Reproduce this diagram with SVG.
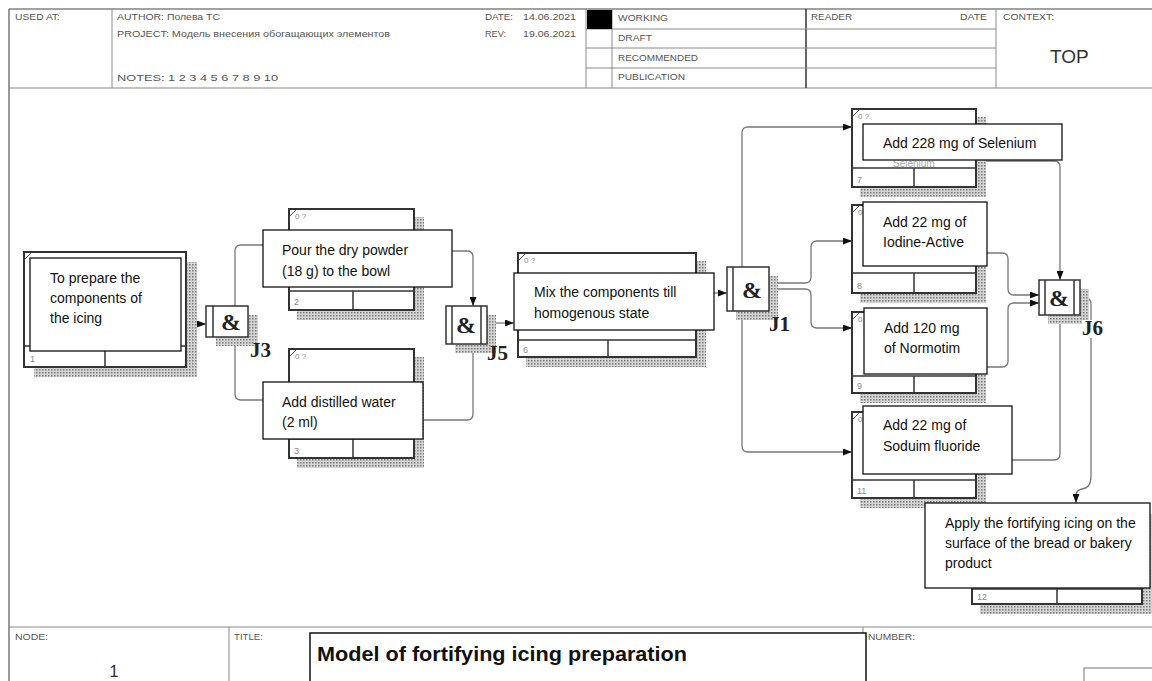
<svg xmlns="http://www.w3.org/2000/svg" width="1152" height="681" viewBox="0 0 1152 681">
<style>
.hdr{font-family:"Liberation Sans",Arial,sans-serif;font-size:8.5px;fill:#555}
.hl{stroke:#8a8a8a;stroke-width:1;fill:none}
.box{fill:#fff;stroke:#333;stroke-width:2}
.strip{stroke:#333;stroke-width:1.5;fill:none}
.tick{stroke:#555;stroke-width:1;fill:none}
.shadow{fill:url(#dots)}
.lbl{fill:#fff;stroke:#111;stroke-width:1.3}
.lt{font-family:"Liberation Sans",Arial,sans-serif;font-size:14px;fill:#111}
.num{font-family:"Liberation Sans",Arial,sans-serif;font-size:9px;fill:#888}
.q{font-family:"Liberation Sans",Arial,sans-serif;font-size:8px;fill:#888}
.jb{fill:#fff;stroke:#333;stroke-width:1.5}
.jd{stroke:#333;stroke-width:1.5}
.amp{font-family:"Liberation Serif","Times New Roman",serif;font-weight:bold;font-size:24px;fill:#222;text-anchor:middle}
.jl{font-family:"Liberation Serif","Times New Roman",serif;font-weight:bold;font-size:21px;fill:#222}
.cn{fill:none;stroke:#777;stroke-width:1.3;marker-end:url(#ah)}
</style>
<defs>
<pattern id="dots" width="3" height="3" patternUnits="userSpaceOnUse">
<rect width="3" height="3" fill="#d4d4d4"/>
<rect width="1.5" height="1.5" fill="#7a7a7a"/>
</pattern>
<marker id="ah" markerWidth="9" markerHeight="7" refX="9" refY="3.5" orient="auto" markerUnits="userSpaceOnUse">
<path d="M0,0 L9,3.5 L0,7 z" fill="#111"/>
</marker>
</defs>
<rect width="1152" height="681" fill="#fff"/>

<g id="header">
<line x1="9" y1="9" x2="1152" y2="9" stroke="#444" stroke-width="1.2"/>
<line x1="9" y1="88" x2="1152" y2="88" stroke="#888" stroke-width="1.2"/>
<line x1="9" y1="9" x2="9" y2="681" stroke="#555" stroke-width="1.2"/>
<line class="hl" x1="112" y1="9" x2="112" y2="88"/>
<line class="hl" x1="586" y1="9" x2="586" y2="88"/>
<line class="hl" x1="612" y1="9" x2="612" y2="88"/>
<line x1="806" y1="9" x2="806" y2="88" stroke="#333" stroke-width="1.5"/>
<line class="hl" x1="996" y1="9" x2="996" y2="88"/>
<line class="hl" x1="586" y1="29" x2="996" y2="29"/>
<line class="hl" x1="586" y1="48" x2="996" y2="48"/>
<line class="hl" x1="586" y1="68" x2="996" y2="68"/>
<rect x="587" y="10" width="25" height="19" fill="#000"/>
<text class="hdr" x="15" y="20" textLength="45" lengthAdjust="spacingAndGlyphs">USED AT:</text>
<text class="hdr" x="117" y="20" textLength="103" lengthAdjust="spacingAndGlyphs">AUTHOR: Полева ТС</text>
<text class="hdr" x="117" y="37" textLength="273" lengthAdjust="spacingAndGlyphs">PROJECT: Модель внесения обогащающих элементов</text>
<text class="hdr" x="117" y="81" textLength="161" lengthAdjust="spacingAndGlyphs">NOTES: 1 2 3 4 5 6 7 8 9 10</text>
<text class="hdr" x="485" y="20" textLength="28" lengthAdjust="spacingAndGlyphs">DATE:</text>
<text class="hdr" x="523" y="20" textLength="53" lengthAdjust="spacingAndGlyphs">14.06.2021</text>
<text class="hdr" x="485" y="37" textLength="21" lengthAdjust="spacingAndGlyphs">REV:</text>
<text class="hdr" x="523" y="37" textLength="53" lengthAdjust="spacingAndGlyphs">19.06.2021</text>
<text class="hdr" x="618" y="21" textLength="50" lengthAdjust="spacingAndGlyphs">WORKING</text>
<text class="hdr" x="618" y="41" textLength="34" lengthAdjust="spacingAndGlyphs">DRAFT</text>
<text class="hdr" x="618" y="61" textLength="80" lengthAdjust="spacingAndGlyphs">RECOMMENDED</text>
<text class="hdr" x="618" y="80" textLength="67" lengthAdjust="spacingAndGlyphs">PUBLICATION</text>
<text class="hdr" x="811" y="20" textLength="41" lengthAdjust="spacingAndGlyphs">READER</text>
<text class="hdr" x="960" y="20" textLength="27" lengthAdjust="spacingAndGlyphs">DATE</text>
<text class="hdr" x="1003" y="20" textLength="51" lengthAdjust="spacingAndGlyphs">CONTEXT:</text>
<text x="1050" y="63" font-family="'Liberation Sans',Arial,sans-serif" font-size="19" fill="#333">TOP</text>
</g>

<g id="footer">
<line x1="9" y1="627" x2="1152" y2="627" stroke="#888" stroke-width="1.2"/>
<line class="hl" x1="229" y1="627" x2="229" y2="681"/>
<line class="hl" x1="863" y1="627" x2="863" y2="681"/>
<text class="hdr" x="15" y="640" textLength="33" lengthAdjust="spacingAndGlyphs">NODE:</text>
<text x="114" y="677" font-family="'Liberation Sans',Arial,sans-serif" font-size="17" fill="#333" text-anchor="middle">1</text>
<text class="hdr" x="234" y="640" textLength="29" lengthAdjust="spacingAndGlyphs">TITLE:</text>
<rect x="310" y="633" width="556" height="60" fill="#fff" stroke="#111" stroke-width="1.5"/>
<text x="317" y="661" font-family="'Liberation Sans',Arial,sans-serif" font-size="20" font-weight="bold" fill="#111" textLength="370" lengthAdjust="spacingAndGlyphs">Model of fortifying icing preparation</text>
<text class="hdr" x="868" y="640" textLength="47" lengthAdjust="spacingAndGlyphs">NUMBER:</text>
<rect x="1084" y="668" width="80" height="30" fill="none" stroke="#777" stroke-width="1"/>
</g>

<g id="connectors">
<path class="cn" d="M187,324 H206"/>
<path class="cn" d="M235,310 V251 Q235,245 241,245 H289"/>
<path class="cn" d="M235,333 V394 Q235,400 241,400 H289"/>
<path class="cn" d="M452,251 H467 Q473,251 473,257 V306"/>
<path class="cn" d="M423,420 H467 Q473,420 473,414 V344"/>
<path class="cn" d="M487,323 H514"/>
<path class="cn" d="M714,293 H727"/>
<path class="cn" d="M742,270 V133 Q742,127 748,127 H852"/>
<path class="cn" d="M742,308 V446 Q742,452 748,452 H852"/>
<path class="cn" d="M769,283 H805 Q811,283 811,277 V247 Q811,241 817,241 H852"/>
<path class="cn" d="M769,289 H805 Q811,289 811,295 V322 Q811,328 817,328 H852"/>
<path class="cn" d="M976,161 H1054 Q1060,161 1060,167 V280"/>
<path class="cn" d="M987,253 H1002 Q1008,253 1008,259 V289 Q1008,295 1014,295 H1039"/>
<path class="cn" d="M987,367 H1002 Q1008,367 1008,361 V309 Q1008,303 1014,303 H1039"/>
<path class="cn" d="M1012,460 H1054 Q1060,460 1060,454 V315"/>
<path class="cn" d="M1080,298 H1085 Q1091,298 1091,304 V476 Q1091,488 1082,489 Q1076,490 1076,496 V503"/>
</g>

<g id="node1">
<rect class="shadow" x="186" y="262" width="11" height="115"/>
<rect class="shadow" x="34" y="367" width="163" height="10"/>
<rect class="box" x="24" y="252" width="162" height="115"/>
<line class="strip" x1="24" y1="346" x2="186" y2="346"/>
<line class="strip" x1="105" y1="346" x2="105" y2="367"/>
<path class="tick" d="M25,259 L31,253"/>
<text class="num" x="30" y="362">1</text>
<rect class="lbl" x="30" y="258" width="151" height="93"/>
<text class="lt" x="50" y="283">To prepare the</text>
<text class="lt" x="50" y="303">components of</text>
<text class="lt" x="50" y="323">the icing</text>
</g>

<g id="node2">
<rect class="shadow" x="414" y="217" width="10" height="103"/>
<rect class="shadow" x="297" y="310" width="127" height="10"/>
<rect class="box" x="289" y="209" width="125" height="101"/>
<line class="strip" x1="289" y1="291" x2="414" y2="291"/>
<line class="strip" x1="353" y1="291" x2="353" y2="310"/>
<path class="tick" d="M290,216 L296,210"/>
<text class="q" x="295" y="219">0 ?</text>
<text class="num" x="294" y="305">2</text>
<rect class="lbl" x="263" y="230" width="189" height="57"/>
<text class="lt" x="282" y="255">Pour the dry powder</text>
<text class="lt" x="282" y="276">(18 g) to the bowl</text>
</g>

<g id="node3">
<rect class="shadow" x="414" y="357" width="10" height="111"/>
<rect class="shadow" x="297" y="458" width="127" height="10"/>
<rect class="box" x="289" y="349" width="125" height="109"/>
<line class="strip" x1="289" y1="439" x2="414" y2="439"/>
<line class="strip" x1="353" y1="439" x2="353" y2="458"/>
<path class="tick" d="M290,356 L296,350"/>
<text class="q" x="295" y="359">0 ?</text>
<text class="num" x="294" y="454">3</text>
<rect class="lbl" x="263" y="382" width="160" height="57"/>
<text class="lt" x="282" y="407">Add distilled water</text>
<text class="lt" x="282" y="427">(2 ml)</text>
</g>

<g id="node6">
<rect class="shadow" x="696" y="261" width="10" height="106"/>
<rect class="shadow" x="526" y="357" width="180" height="10"/>
<rect class="box" x="518" y="253" width="178" height="104"/>
<line class="strip" x1="518" y1="340" x2="696" y2="340"/>
<line class="strip" x1="608" y1="340" x2="608" y2="357"/>
<path class="tick" d="M519,260 L525,254"/>
<text class="q" x="524" y="263">0 ?</text>
<text class="num" x="523" y="353">6</text>
<rect class="lbl" x="514" y="273" width="200" height="57"/>
<text class="lt" x="534" y="297">Mix the components till</text>
<text class="lt" x="534" y="318">homogenous state</text>
</g>

<g id="node7">
<rect class="shadow" x="976" y="117" width="10" height="80"/>
<rect class="shadow" x="860" y="187" width="126" height="10"/>
<rect class="box" x="852" y="109" width="124" height="78"/>
<line class="strip" x1="852" y1="168" x2="976" y2="168"/>
<line class="strip" x1="914" y1="168" x2="914" y2="187"/>
<path class="tick" d="M853,116 L859,110"/>
<text class="q" x="858" y="119">0 ?</text>
<text x="893" y="167" font-family="'Liberation Sans',Arial,sans-serif" font-size="10" fill="#aaa">Selenium</text>
<text class="num" x="857" y="183">7</text>
<rect class="lbl" x="863" y="124" width="199" height="36"/>
<text class="lt" x="883" y="148">Add 228 mg of Selenium</text>
</g>

<g id="node8">
<rect class="shadow" x="976" y="213" width="10" height="90"/>
<rect class="shadow" x="860" y="293" width="126" height="10"/>
<rect class="box" x="852" y="205" width="124" height="88"/>
<line class="strip" x1="852" y1="273" x2="976" y2="273"/>
<line class="strip" x1="914" y1="273" x2="914" y2="293"/>
<path class="tick" d="M853,212 L859,206"/>
<text class="q" x="858" y="215">0 ?</text>
<text class="num" x="857" y="289">8</text>
<rect class="lbl" x="863" y="202" width="124" height="64"/>
<text class="lt" x="883" y="227">Add 22 mg of</text>
<text class="lt" x="883" y="247">Iodine-Active</text>
</g>

<g id="node9">
<rect class="shadow" x="976" y="320" width="10" height="83"/>
<rect class="shadow" x="860" y="393" width="126" height="10"/>
<rect class="box" x="852" y="312" width="124" height="81"/>
<line class="strip" x1="852" y1="376" x2="976" y2="376"/>
<line class="strip" x1="914" y1="376" x2="914" y2="393"/>
<path class="tick" d="M853,319 L859,313"/>
<text class="q" x="858" y="322">0 ?</text>
<text class="num" x="857" y="389">9</text>
<rect class="lbl" x="864" y="308" width="123" height="66"/>
<text class="lt" x="884" y="333">Add 120 mg</text>
<text class="lt" x="884" y="353">of Normotim</text>
</g>

<g id="node11">
<rect class="shadow" x="976" y="420" width="10" height="88"/>
<rect class="shadow" x="860" y="498" width="126" height="10"/>
<rect class="box" x="852" y="412" width="124" height="86"/>
<line class="strip" x1="852" y1="480" x2="976" y2="480"/>
<line class="strip" x1="914" y1="480" x2="914" y2="498"/>
<path class="tick" d="M853,419 L859,413"/>
<text class="q" x="858" y="422">0 ?</text>
<text class="num" x="857" y="494">11</text>
<rect class="lbl" x="863" y="406" width="149" height="68"/>
<text class="lt" x="883" y="430">Add 22 mg of</text>
<text class="lt" x="883" y="451">Soduim fluoride</text>
</g>

<g id="node12">
<rect class="shadow" x="1142" y="514" width="10" height="100"/>
<rect class="shadow" x="980" y="604" width="172" height="10"/>
<rect class="box" x="972" y="506" width="170" height="98"/>
<line class="strip" x1="972" y1="589" x2="1142" y2="589"/>
<line class="strip" x1="1057" y1="589" x2="1057" y2="604"/>
<text class="num" x="977" y="600">12</text>
<rect class="lbl" x="925" y="503" width="225" height="85"/>
<text class="lt" x="945" y="528">Apply the fortifying icing on the</text>
<text class="lt" x="945" y="548">surface of the bread or bakery</text>
<text class="lt" x="945" y="568">product</text>
</g>

<g id="J3">
<rect class="shadow" x="248" y="315" width="10" height="31"/>
<rect class="shadow" x="216" y="337" width="42" height="9"/>
<rect class="jb" x="206" y="306" width="42" height="31"/>
<line class="jd" x1="213" y1="306" x2="213" y2="337"/>
<text class="amp" x="231" y="330">&amp;</text>
<text class="jl" x="250" y="357">J3</text>
</g>

<g id="J5">
<rect class="shadow" x="487" y="315" width="9" height="38"/>
<rect class="shadow" x="455" y="344" width="41" height="9"/>
<rect class="jb" x="446" y="306" width="41" height="38"/>
<line class="jd" x1="452" y1="306" x2="452" y2="344"/>
<line class="jd" x1="481" y1="306" x2="481" y2="344"/>
<text class="amp" x="466" y="333">&amp;</text>
<text class="jl" x="487" y="360">J5</text>
</g>

<g id="J1">
<rect class="shadow" x="769" y="276" width="9" height="44"/>
<rect class="shadow" x="736" y="311" width="42" height="9"/>
<rect class="jb" x="727" y="267" width="42" height="44"/>
<line class="jd" x1="733" y1="267" x2="733" y2="311"/>
<text class="amp" x="752" y="298">&amp;</text>
<text class="jl" x="769" y="331">J1</text>
</g>

<g id="J6">
<rect class="shadow" x="1080" y="289" width="9" height="35"/>
<rect class="shadow" x="1048" y="315" width="41" height="9"/>
<rect class="jb" x="1039" y="280" width="41" height="35"/>
<line class="jd" x1="1045" y1="280" x2="1045" y2="315"/>
<line class="jd" x1="1074" y1="280" x2="1074" y2="315"/>
<text class="amp" x="1059" y="306">&amp;</text>
<rect x="1082" y="320" width="27" height="18" fill="#fff"/>
<text class="jl" x="1082" y="335">J6</text>
</g>
</svg>
